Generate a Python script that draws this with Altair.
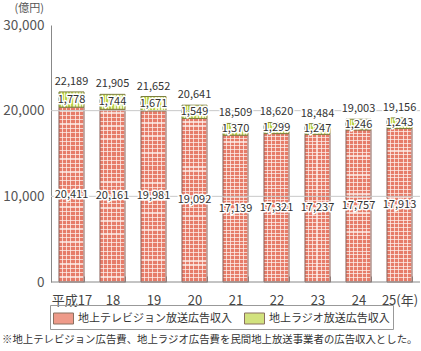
import altair as alt
import pandas as pd

years = ["平成17", "18", "19", "20", "21", "22", "23", "24", "25(年)"]
tv = [20411, 20161, 19981, 19092, 17139, 17321, 17237, 17757, 17913]
radio = [1778, 1744, 1671, 1549, 1370, 1299, 1247, 1246, 1243]
total = [22189, 21905, 21652, 20641, 18509, 18620, 18484, 19003, 19156]
series = ["地上テレビジョン放送広告収入", "地上ラジオ放送広告収入"]
y_ticks = [0, 10000, 20000, 30000]
grid_vals = [10000, 20000]
base_vals = [0]
note = "※地上テレビジョン広告費、地上ラジオ広告費を民間地上放送事業者の広告収入とした。"

FONT = "Noto Sans CJK JP"

df = pd.DataFrame({"year": years, "tv": tv, "radio": radio, "total": total})
grid_df = pd.DataFrame({"v": grid_vals})
base_df = pd.DataFrame({"v": base_vals})
leg_df = pd.DataFrame({"series": series})
note_df = pd.DataFrame({"t": [note]})


def stripes(c1, c2, n, frac, along_x):
    stops = []
    for i in range(n):
        s = i / n
        m = s + frac / n
        e = (i + 1) / n
        stops += [
            {"offset": s, "color": c1},
            {"offset": m, "color": c1},
            {"offset": m, "color": c2},
            {"offset": e, "color": c2},
        ]
    g = {"gradient": "linear", "stops": stops}
    if along_x:
        g.update({"x1": 0, "x2": 1, "y1": 0, "y2": 0})
    else:
        g.update({"x1": 0, "x2": 0, "y1": 0, "y2": 1})
    return g


xscale = alt.Scale(domain=years, paddingInner=0.39, paddingOuter=0.195)
yscale = alt.Scale(domain=[0, 30000], nice=False)

x_axis = alt.Axis(labelAngle=0, domain=False, ticks=True, tickBand="extent",
                  tickSize=6, tickColor="#999", offset=-6, title=None,
                  labelFontSize=13, labelColor="#444", labelPadding=12, labelFont=FONT)
y_axis = alt.Axis(values=y_ticks, labelExpr="format(datum.value, ',')",
                  grid=False, ticks=False, domainColor="#888",
                  labelFontSize=13.5, labelColor="#555", labelPadding=7, labelFont=FONT,
                  title="(億円)", titleAngle=0, titleX=-37, titleY=-16.5, titleAlign="left",
                  titleBaseline="middle", titleFontSize=11, titleFontWeight="normal",
                  titleColor="#555", titleFont=FONT)


def X():
    return alt.X("year:N", scale=xscale, sort=years, axis=x_axis)


def Y(field):
    return alt.Y(field, scale=yscale, axis=y_axis)


base = alt.Chart(df)

tv_base = base.mark_bar(
    fill=stripes("#E67C69", "#F7D3CB", 40, 0.72, False)
).encode(x=X(), y=Y("tv:Q"))

tv_over = base.mark_bar(
    fill=stripes("rgba(0,0,0,0)", "rgba(255,242,238,0.75)", 6, 0.72, True),
    stroke="#8a6058", strokeWidth=1,
).encode(x=X(), y=Y("tv:Q"))

radio_bar = base.mark_bar(
    fill=stripes("#BCD44E", "#EEF3C6", 8, 0.5, True),
    stroke="#7d7f3e", strokeWidth=1,
).encode(x=X(), y=Y("tv:Q"), y2="total:Q")

grid = alt.Chart(grid_df).mark_rule(color="#c8c8c8", strokeWidth=1).encode(y=Y("v:Q"))
baseline = alt.Chart(base_df).mark_rule(color="#888", strokeWidth=1).encode(y=Y("v:Q"))


def lab(posfield, textfield, dy=0):
    out = []
    for halo in (True, False):
        kw = dict(fontSize=11, font=FONT, baseline="middle", align="center", dy=dy)
        if halo:
            kw.update(color="white", stroke="white", strokeWidth=3, strokeJoin="round")
        else:
            kw.update(color="#333")
        out.append(
            base.transform_calculate(
                tmid="datum.tv / 2", rmid="(datum.tv + datum.total) / 2"
            ).mark_text(**kw).encode(
                x=X(),
                y=Y(posfield + ":Q"),
                text=alt.Text(textfield + ":Q", format=","),
            )
        )
    return out


legend_layer = alt.Chart(leg_df).mark_square(opacity=0).encode(
    color=alt.Color(
        "series:N", sort=series,
        scale=alt.Scale(domain=series, range=["#EE9A89", "#D2E27E"]),
        legend=alt.Legend(
            title=None, orient="none", legendX=-1, legendY=280, direction="horizontal",
            symbolType="M-1,-0.55H1V0.55H-1Z", symbolSize=400, symbolOpacity=1,
            symbolStrokeColor="#8a7060", symbolStrokeWidth=1,
            labelFontSize=11, labelFont=FONT, labelColor="#333", labelOffset=4,
            columnPadding=10, padding=3, strokeColor="#999",
        ),
    )
)

note_layer = alt.Chart(note_df).mark_text(
    align="left", baseline="middle", fontSize=10.4, font=FONT, color="#333"
).encode(x=alt.value(-49), y=alt.value(315), text="t:N")

layers = [tv_base, tv_over, radio_bar, grid, baseline]
layers += lab("tmid", "tv")
layers += lab("rmid", "radio")
layers += lab("total", "total", dy=-10)
layers += [legend_layer, note_layer]

chart = alt.layer(*layers).properties(
    width=369, height=257,
    autosize=alt.AutoSizeParams(type="none"),
    padding={"left": 51, "top": 25, "right": 1, "bottom": 69},
).configure_view(stroke=None)

chart.save("out.html", embed_options={"renderer": "svg", "actions": False})
